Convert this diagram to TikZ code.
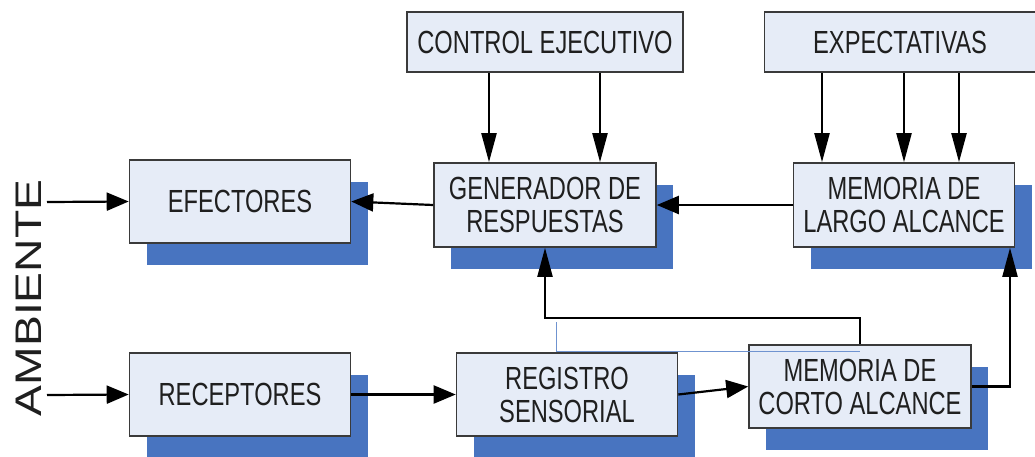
\documentclass[tikz,border=0pt]{standalone}
\usepackage{fontspec}
\usetikzlibrary{arrows.meta,calc,shadows}
\newfontfamily\boxfont[FakeStretch=0.74]{Liberation Sans}
\newfontfamily\ambfont[FakeStretch=1.25]{Liberation Sans}
\definecolor{boxfill}{HTML}{E6ECF7}
\definecolor{boxline}{HTML}{3A3A3A}
\definecolor{shadowblue}{HTML}{4874C0}
\definecolor{thinblue}{HTML}{6F93D0}
\tikzset{
  blk/.style={draw=boxline, line width=1.6pt, fill=boxfill, inner sep=0pt,
    align=center, font=\boxfont\fontsize{32}{33}\selectfont, text=black!88,
    drop shadow={shadow xshift=17pt, shadow yshift=-22pt, fill=shadowblue, opacity=1, draw=none}},
  topblk/.style={draw=boxline, line width=1.6pt, fill=boxfill, inner sep=0pt,
    align=center, font=\boxfont\fontsize{32}{33}\selectfont, text=black!88},
  harrow/.style={line width=2.2pt, -{Triangle[length=22pt,width=18pt]}},
  varrow/.style={line width=2.2pt, -{Triangle[length=29pt,width=15pt]}},
}
\begin{document}
\begin{tikzpicture}[x=1pt,y=-1pt]
\useasboundingbox (0,0) rectangle (1035,456);

% top boxes
\node[topblk, minimum width=276pt, minimum height=60pt] (ctrl) at (545,42) {CONTROL EJECUTIVO};
\node[topblk, minimum width=271pt, minimum height=60pt] (exp) at (900,42) {EXPECTATIVAS};

% main boxes
\node[blk, minimum width=221pt, minimum height=83pt] (eff) at (240,201.5) {EFECTORES};
\node[blk, minimum width=222pt, minimum height=84pt] (gen) at (545,205) {GENERADOR DE\\RESPUESTAS};
\node[blk, minimum width=221pt, minimum height=84pt] (ml) at (904,205) {MEMORIA DE\\LARGO ALCANCE};
\node[blk, minimum width=221pt, minimum height=83pt] (rec) at (240,394.5) {RECEPTORES};
\node[blk, minimum width=221pt, minimum height=83pt] (reg) at (567,394.5) {REGISTRO\\SENSORIAL};
\node[blk, minimum width=222pt, minimum height=83pt] (mc) at (860,386.5) {MEMORIA DE\\CORTO ALCANCE};

% AMBIENTE label
\node[rotate=90, font=\ambfont\fontsize{37}{40}\selectfont, text=black!88, inner sep=0pt] (amb) at (28.5,298) {AMBIENTE};

% control -> generador
\draw[varrow] ($(ctrl.south)+(-56,0)$) -- ($(gen.north)+(-56,0)$);
\draw[varrow] ($(ctrl.south)+(55,0)$) -- ($(gen.north)+(55,0)$);

% expectativas -> memoria largo
\draw[varrow] ($(ml.north |- exp.south)+(-82,0)$) -- ($(ml.north)+(-82,0)$);
\draw[varrow] (ml.north |- exp.south) -- (ml.north);
\draw[varrow] ($(ml.north |- exp.south)+(55,0)$) -- ($(ml.north)+(55,0)$);

% horizontal flows
\draw[harrow] (gen.west) -- (eff.east);
\draw[harrow] (ml.west) -- (gen.east);
\coordinate (a1) at (47,202);
\coordinate (a2) at (47,395);
\draw[harrow] (a1) -- (eff.west);
\draw[harrow] (a2) -- (rec.west);
\draw[harrow] (rec.east) -- (reg.west);
\draw[harrow] (reg.east) -- (mc.west);

% memoria corto -> memoria largo
\draw[varrow] (mc.east) -| ($(ml.south)+(106,0)$);

% memoria corto -> generador
\coordinate (p) at ($(gen.south)+(0,70)$);
\draw[varrow] (mc.north) -- (mc.north |- p) -- (p) -- (gen.south);

% thin blue line
\coordinate (bl) at (556,322);
\draw[thinblue, line width=1pt] (bl) |- ($(mc.north)+(0,7)$);
\end{tikzpicture}
\end{document}
